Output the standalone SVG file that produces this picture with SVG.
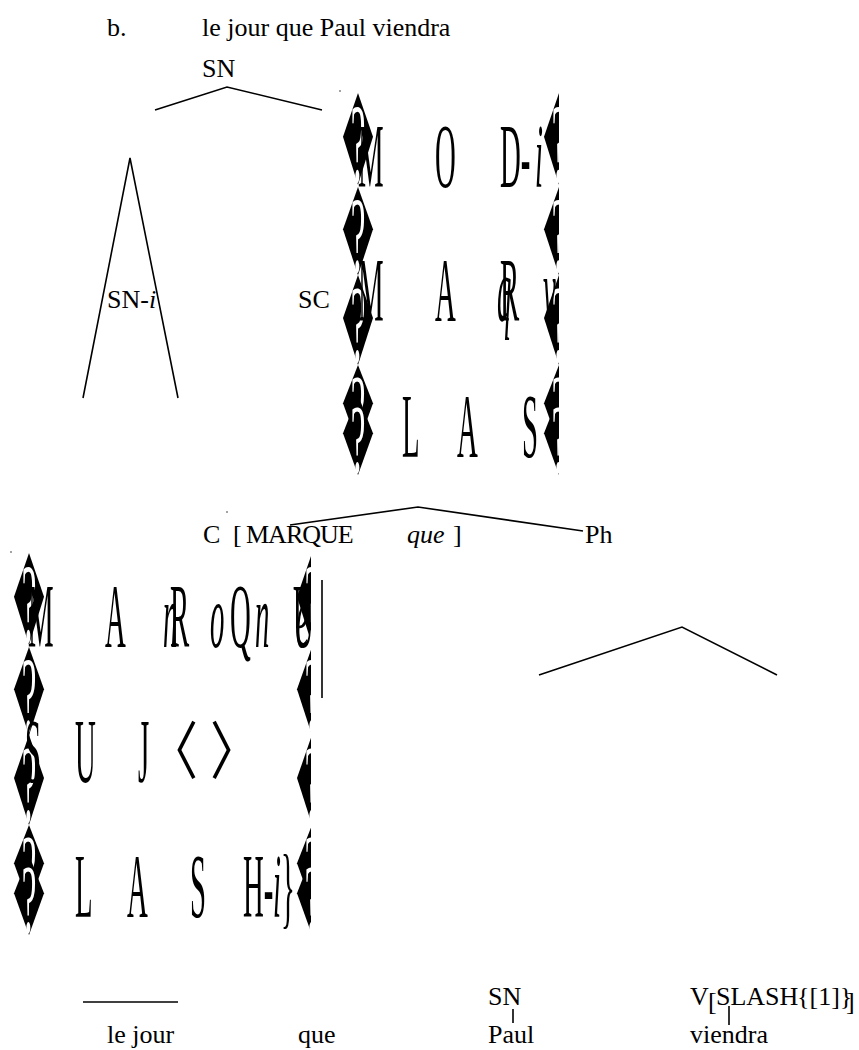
<svg xmlns="http://www.w3.org/2000/svg" xmlns:xlink="http://www.w3.org/1999/xlink" width="859" height="1050" viewBox="0 0 859 1050">
<style>
  .t { font-family: "Liberation Serif", "Times New Roman", serif; font-size: 26px; fill: #000; }
  .it { font-style: italic; }
  .big { font-family: "Liberation Serif", "Times New Roman", serif; font-size: 90px; fill: #000; }
  .q { font-family: "Liberation Serif", "Times New Roman", serif; font-size: 110px; fill: #fff; }
  .ln { stroke: #000; stroke-width: 1.6; fill: none; stroke-linecap: butt; }
  .ang { font-family: "Noto Sans CJK JP", "Noto Sans CJK SC", sans-serif; font-size: 50px; fill: #000; }
</style>
<defs>
  <g id="dia">
    <polygon points="0,0 15,43 0,90 -15,43" fill="#000"/>
    <text class="q" x="0" y="86" text-anchor="middle" transform="scale(0.3,1)">?</text>
  </g>
  <clipPath id="clip1"><rect x="330" y="85" width="229" height="400"/></clipPath>
  <clipPath id="clip2"><rect x="0" y="545" width="311" height="400"/></clipPath>
</defs>
<rect width="859" height="1050" fill="#fff"/>

<g id="title">
  <text class="t" x="107" y="36">b.</text>
  <text class="t" x="202" y="36">le jour que Paul viendra</text>
</g>

<g id="node-SN-root">
  <text class="t" x="202" y="77">SN</text>
</g>

<g id="node-SN-i">
  <polyline class="ln" points="83,398 130,158 178,398"/>
  <text class="t" x="107" y="308">SN-<tspan class="it">i</tspan></text>
</g>

<g id="node-SC">
  <text class="t" x="298" y="308">SC</text>
</g>

<g id="avm-1" clip-path="url(#clip1)">
  <use xlink:href="#dia" transform="translate(358,93) scale(1,1.02)"/>
  <use xlink:href="#dia" transform="translate(358,187) scale(1,0.98)"/>
  <use xlink:href="#dia" transform="translate(358,275)"/>
  <use xlink:href="#dia" transform="translate(358,365) scale(1,0.89)"/>
  <use xlink:href="#dia" transform="translate(358,395) scale(1,0.89)"/>
  <use xlink:href="#dia" transform="translate(559,93) scale(1,1.02)"/>
  <use xlink:href="#dia" transform="translate(559,187) scale(1,0.98)"/>
  <use xlink:href="#dia" transform="translate(559,275)"/>
  <use xlink:href="#dia" transform="translate(559,365) scale(1,0.89)"/>
  <use xlink:href="#dia" transform="translate(559,395) scale(1,0.89)"/>
  <text class="big" transform="translate(358,187) scale(0.32,1)">M</text>
  <text class="big" transform="translate(435,187) scale(0.32,1)">O</text>
  <text class="big" transform="translate(500,187) scale(0.32,1)">D-</text>
  <text class="big it" transform="translate(535,187) scale(0.32,1)">i</text>
  <text class="big" transform="translate(358,321) scale(0.32,1)">M</text>
  <text class="big" transform="translate(435,321) scale(0.32,1)">A</text>
  <text class="big" transform="translate(500,321) scale(0.32,1)">R</text>
  <text class="big it" transform="translate(497,321) scale(0.32,1)">q</text>
  <text class="big it" transform="translate(543,321) scale(0.32,1)">v</text>
  <text class="big" transform="translate(402,457) scale(0.32,1)">L</text>
  <text class="big" transform="translate(457,457) scale(0.32,1)">A</text>
  <text class="big" transform="translate(522,457) scale(0.32,1)">S</text>
</g>

<g id="node-C">
  <text class="t" x="203" y="543">C</text>
  <text class="t" x="233" y="543">[</text>
  <text class="t" x="246" y="543" font-size="28" letter-spacing="-1">MARQUE</text>
  <text class="t it" x="407" y="543">que</text>
  <text class="t" x="453" y="543">]</text>
</g>

<g id="node-Ph">
  <text class="t" x="585" y="543">Ph</text>
</g>

<g id="avm-2" clip-path="url(#clip2)">
  <use xlink:href="#dia" transform="translate(29,553) scale(1,1.02)"/>
  <use xlink:href="#dia" transform="translate(29,647) scale(1,0.98)"/>
  <use xlink:href="#dia" transform="translate(29,735)"/>
  <use xlink:href="#dia" transform="translate(29,825) scale(1,0.89)"/>
  <use xlink:href="#dia" transform="translate(29,855) scale(1,0.89)"/>
  <use xlink:href="#dia" transform="translate(312,553) scale(1,1.02)"/>
  <use xlink:href="#dia" transform="translate(312,647) scale(1,0.98)"/>
  <use xlink:href="#dia" transform="translate(312,735)"/>
  <use xlink:href="#dia" transform="translate(312,825) scale(1,0.89)"/>
  <use xlink:href="#dia" transform="translate(312,855) scale(1,0.89)"/>
  <text class="big" transform="translate(28,647) scale(0.32,1)">M</text>
  <text class="big" transform="translate(105,647) scale(0.32,1)">A</text>
  <text class="big it" transform="translate(163,647) scale(0.32,1)">n</text>
  <text class="big" transform="translate(170,647) scale(0.32,1)">R</text>
  <text class="big it" transform="translate(210,647) scale(0.32,1)">o</text>
  <text class="big" transform="translate(230,647) scale(0.32,1)">Q</text>
  <text class="big it" transform="translate(255,647) scale(0.32,1)">n</text>
  <text class="big" transform="translate(293,647) scale(0.32,1)">U</text>
  <text class="big it" transform="translate(296,647) scale(0.32,1)">e</text>
  <text class="big" transform="translate(25,782) scale(0.32,1)">S</text>
  <text class="big" transform="translate(75,782) scale(0.32,1)">U</text>
  <text class="big" transform="translate(138,782) scale(0.32,1)">J</text>
  <text class="ang" transform="translate(148,774) scale(1,1.25)">〈</text>
  <text class="ang" transform="translate(210,774) scale(1,1.25)">〉</text>
  <text class="big" transform="translate(75,917) scale(0.32,1)">L</text>
  <text class="big" transform="translate(127,917) scale(0.32,1)">A</text>
  <text class="big" transform="translate(190,917) scale(0.32,1)">S</text>
  <text class="big" transform="translate(243,917) scale(0.32,1)">H-</text>
  <text class="big it" transform="translate(273,917) scale(0.32,1)">i</text>
  <text class="big" transform="translate(281,917) scale(0.32,1)">}</text>
</g>

<g id="leaf-le-jour">
  <text class="t" x="107" y="1043">le jour</text>
</g>
<g id="leaf-que">
  <text class="t" x="298" y="1043">que</text>
</g>
<g id="node-SN-Paul">
  <text class="t" x="488" y="1005">SN</text>
  <text class="t" x="488" y="1043">Paul</text>
</g>
<g id="node-V">
  <text class="t" x="690" y="1005">V</text>
  <text class="t" x="708" y="1010" font-size="32">[</text>
  <text class="t" x="716" y="1005" font-size="21">SLASH</text>
  <text class="t" x="797" y="1005" font-size="17">{[1]}</text>
  <text class="t" x="846" y="1010" font-size="30">]</text>
  <text class="t" x="690" y="1043">viendra</text>
</g>

<g id="connectors">
  <polyline class="ln" points="290,525 418,507 583,531"/>
  <polyline class="ln" points="155,110 227,87 322,110"/>
  <line class="ln" x1="322" y1="580" x2="322" y2="698"/>
  <polyline class="ln" points="539,675 682,627 777,675"/>
  <line class="ln" x1="83" y1="1002" x2="178" y2="1002"/>
  <line class="ln" x1="513" y1="1009" x2="513" y2="1023"/>
  <line class="ln" x1="729" y1="1006" x2="729" y2="1025"/>
  <circle cx="340" cy="91" r="0.7" fill="#000"/>
  <circle cx="11" cy="552" r="0.7" fill="#000"/>
  <circle cx="227" cy="512" r="0.7" fill="#000"/>
</g>
</svg>
